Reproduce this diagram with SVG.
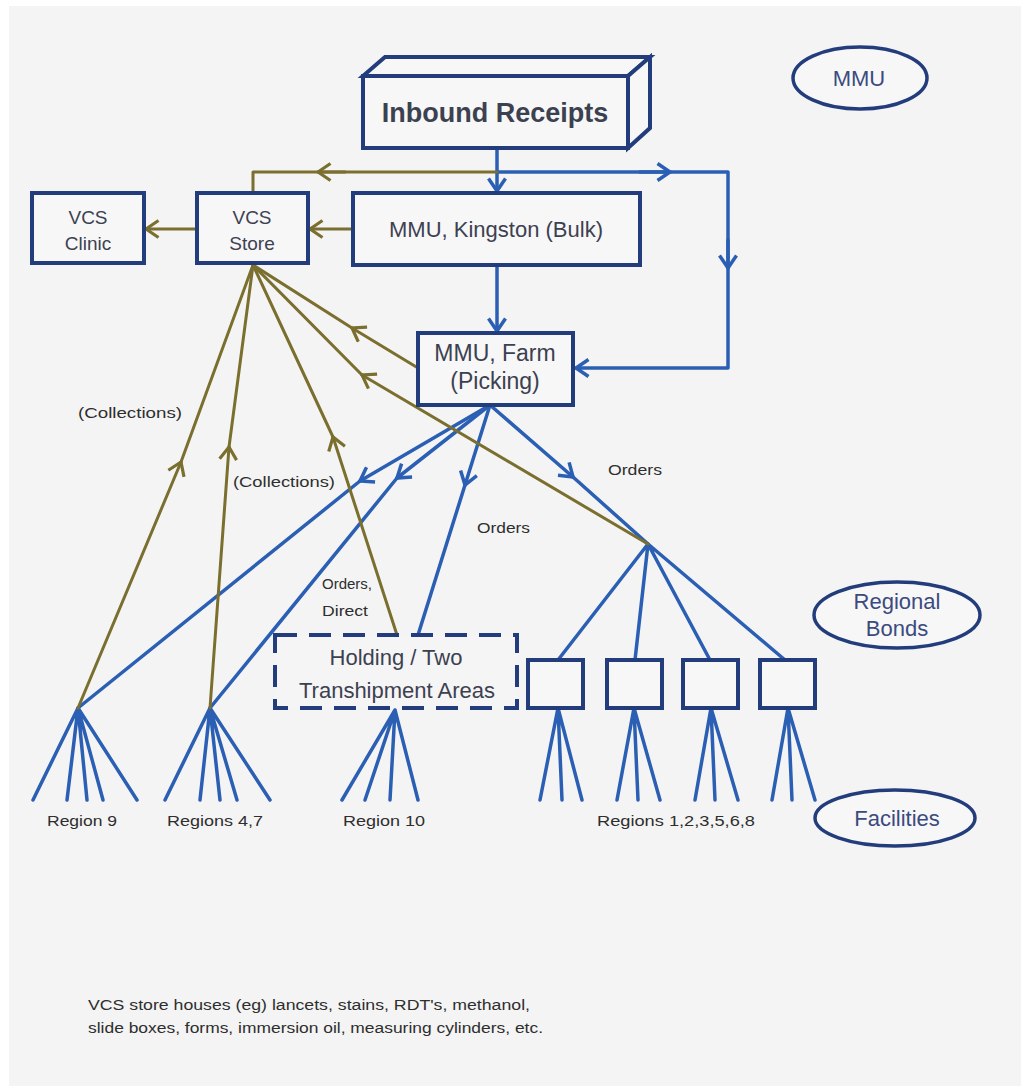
<svg xmlns="http://www.w3.org/2000/svg" width="1028" height="1091" viewBox="0 0 1028 1091">
  <defs>
    <marker id="arrBlue" viewBox="0 0 16 20" refX="14" refY="10" markerWidth="16" markerHeight="20" markerUnits="userSpaceOnUse" orient="auto">
      <path d="M1.5,1.5 L14,10 L1.5,18.5" fill="none" stroke="#2b5fb4" stroke-width="3.5" stroke-linejoin="miter"/>
    </marker>
    <marker id="arrOlive" viewBox="0 0 16 20" refX="14" refY="10" markerWidth="16" markerHeight="20" markerUnits="userSpaceOnUse" orient="auto">
      <path d="M1.5,1.5 L14,10 L1.5,18.5" fill="none" stroke="#7a6f2e" stroke-width="3.2" stroke-linejoin="miter"/>
    </marker>
    <style>
      .box { fill: #f7f7f8; stroke: #233d7c; stroke-width: 4; }
      .dash { fill: #f5f5f6; stroke: #233d7c; stroke-width: 4; stroke-dasharray: 22 12; }
      .oval { fill: #f7f7f8; stroke: #233d7c; stroke-width: 3.5; }
      .blue { fill: none; stroke: #2b5fb4; stroke-width: 3.5; stroke-linecap: round; stroke-linejoin: round; }
      .olive { fill: none; stroke: #7a6f2e; stroke-width: 3; stroke-linecap: round; stroke-linejoin: round; }
      .ab { marker-end: url(#arrBlue); }
      .ao { marker-end: url(#arrOlive); }
      .t { font-family: "Liberation Sans", Arial, sans-serif; fill: #3c4150; text-anchor: middle; }
      .ov { font-family: "Liberation Sans", Arial, sans-serif; fill: #3b4b7e; text-anchor: middle; font-size: 22px; }
      .s { font-family: "Liberation Sans", Arial, sans-serif; fill: #2e2e2e; font-size: 14px; }
    </style>
  </defs>

  <!-- page -->
  <rect x="0" y="0" width="1028" height="1091" fill="#ffffff"/>
  <rect x="9" y="6" width="1012" height="1080" fill="#f4f4f4"/>

  <!-- connectors -->
  <g id="connectors">
    <g id="blue-flows">
      <path class="blue ab" d="M497,148 L497,191"/>
      <path class="blue ab" d="M497,172 L728,172 L728,368 L576,368"/>
      <path class="blue ab" d="M640,172 L670,172"/>
      <path class="blue ab" d="M728,240 L728,268"/>
      <path class="blue ab" d="M497,265 L497,331"/>

      <path class="blue ab" d="M490,405 L360,481"/>
      <path class="blue" d="M360,481 L78,708"/>
      <path class="blue ab" d="M490,405 L397,478"/>
      <path class="blue" d="M397,478 L210,708"/>
      <path class="blue ab" d="M490,405 L465,485"/>
      <path class="blue" d="M465,485 L418,635"/>
      <path class="blue ab" d="M490,405 L573,477"/>
      <path class="blue" d="M573,477 L648,544"/>

      <path class="blue" d="M648,544 L558,660 M648,544 L635,660 M648,544 L710,660 M648,544 L785,660"/>

      <path class="blue" d="M78,708 L33,800 M78,708 L67,800 M78,708 L87,800 M78,708 L103,800 M78,708 L137,800"/>
      <path class="blue" d="M210,708 L165,800 M210,708 L200,800 M210,708 L220,800 M210,708 L237,800 M210,708 L270,800"/>
      <path class="blue" d="M395,710 L342,800 M395,710 L365,800 M395,710 L390,800 M395,710 L418,800"/>
      <path class="blue" d="M558,708 L540,800 M558,708 L562,800 M558,708 L582,800"/>
      <path class="blue" d="M634,708 L617,800 M634,708 L638,800 M634,708 L660,800"/>
      <path class="blue" d="M711,708 L695,800 M711,708 L715,800 M711,708 L738,800"/>
      <path class="blue" d="M788,708 L772,800 M788,708 L792,800 M788,708 L815,800"/>
    </g>
    <g id="olive-flows">
      <path class="olive" d="M497,172 L253,172 L253,193"/>
      <path class="olive ao" d="M345,172 L318,172"/>
      <path class="olive ao" d="M353,229 L310,229"/>
      <path class="olive ao" d="M197,229 L146,229"/>

      <path class="olive ao" d="M78,708 L181,462"/>
      <path class="olive" d="M181,462 L253,265"/>
      <path class="olive ao" d="M210,708 L229,447"/>
      <path class="olive" d="M229,447 L253,265"/>
      <path class="olive ao" d="M397,635 L333,437"/>
      <path class="olive" d="M333,437 L253,265"/>
      <path class="olive ao" d="M418,368 L352,328"/>
      <path class="olive" d="M352,328 L253,265"/>
      <path class="olive ao" d="M648,544 L362,375"/>
      <path class="olive" d="M362,375 L253,265"/>
    </g>
  </g>

  <!-- nodes -->
  <g id="inbound-receipts">
    <polygon class="box" points="363,76 385,57 650,57 628,76"/>
    <polygon class="box" points="628,76 650,57 650,128 628,148"/>
    <rect class="box" x="363" y="76" width="265" height="72"/>
    <text class="t" x="495" y="122" font-size="27" font-weight="bold">Inbound Receipts</text>
  </g>

  <g id="mmu-kingston">
    <rect class="box" x="353" y="193" width="287" height="72"/>
    <text class="t" x="496" y="237" font-size="22">MMU, Kingston (Bulk)</text>
  </g>

  <g id="vcs-store">
    <rect class="box" x="197" y="193" width="111" height="70"/>
    <text class="t" x="252" y="224" font-size="19">VCS</text>
    <text class="t" x="252" y="250" font-size="19">Store</text>
  </g>

  <g id="vcs-clinic">
    <rect class="box" x="32" y="193" width="112" height="70"/>
    <text class="t" x="88" y="224" font-size="19">VCS</text>
    <text class="t" x="88" y="250" font-size="19">Clinic</text>
  </g>

  <g id="mmu-farm">
    <rect class="box" x="418" y="333" width="155" height="72"/>
    <text class="t" x="495" y="361" font-size="23">MMU, Farm</text>
    <text class="t" x="495" y="389" font-size="23">(Picking)</text>
  </g>

  <g id="holding-areas">
    <rect class="dash" x="275" y="635" width="242" height="73"/>
    <text class="t" x="396" y="665" font-size="22">Holding / Two</text>
    <text class="t" x="397" y="698" font-size="22">Transhipment Areas</text>
  </g>

  <g id="bond-1"><rect class="box" x="528" y="660" width="55" height="48"/></g>
  <g id="bond-2"><rect class="box" x="607" y="660" width="55" height="48"/></g>
  <g id="bond-3"><rect class="box" x="683" y="660" width="55" height="48"/></g>
  <g id="bond-4"><rect class="box" x="760" y="660" width="55" height="48"/></g>

  <g id="legend-mmu">
    <ellipse class="oval" cx="860" cy="78" rx="67" ry="31"/>
    <text class="ov" x="859" y="86" font-size="24">MMU</text>
  </g>
  <g id="legend-bonds">
    <ellipse class="oval" cx="897" cy="615" rx="83" ry="33"/>
    <text class="ov" x="897" y="609">Regional</text>
    <text class="ov" x="897" y="636">Bonds</text>
  </g>
  <g id="legend-facilities">
    <ellipse class="oval" cx="895" cy="818" rx="80" ry="28"/>
    <text class="ov" x="897" y="826">Facilities</text>
  </g>

  <!-- flow labels -->
  <g id="labels">
    <text class="s" x="78" y="418" textLength="104" lengthAdjust="spacingAndGlyphs">(Collections)</text>
    <text class="s" x="233" y="487" textLength="102" lengthAdjust="spacingAndGlyphs">(Collections)</text>
    <text class="s" x="608" y="475" textLength="54" lengthAdjust="spacingAndGlyphs">Orders</text>
    <text class="s" x="477" y="533" textLength="53" lengthAdjust="spacingAndGlyphs">Orders</text>
    <text class="s" x="322" y="589" textLength="50" lengthAdjust="spacingAndGlyphs">Orders,</text>
    <text class="s" x="322" y="616" textLength="46" lengthAdjust="spacingAndGlyphs">Direct</text>
    <text class="s" x="47" y="826" font-size="15" textLength="70" lengthAdjust="spacingAndGlyphs">Region 9</text>
    <text class="s" x="167" y="826" font-size="15" textLength="96" lengthAdjust="spacingAndGlyphs">Regions 4,7</text>
    <text class="s" x="343" y="826" font-size="15" textLength="82" lengthAdjust="spacingAndGlyphs">Region 10</text>
    <text class="s" x="597" y="826" font-size="15" textLength="158" lengthAdjust="spacingAndGlyphs">Regions 1,2,3,5,6,8</text>
    <text class="s" x="88" y="1010" textLength="442" lengthAdjust="spacingAndGlyphs">VCS store houses (eg) lancets, stains, RDT's,  methanol,</text>
    <text class="s" x="88" y="1033" textLength="455" lengthAdjust="spacingAndGlyphs">slide boxes, forms, immersion oil, measuring cylinders, etc.</text>
  </g>
</svg>
